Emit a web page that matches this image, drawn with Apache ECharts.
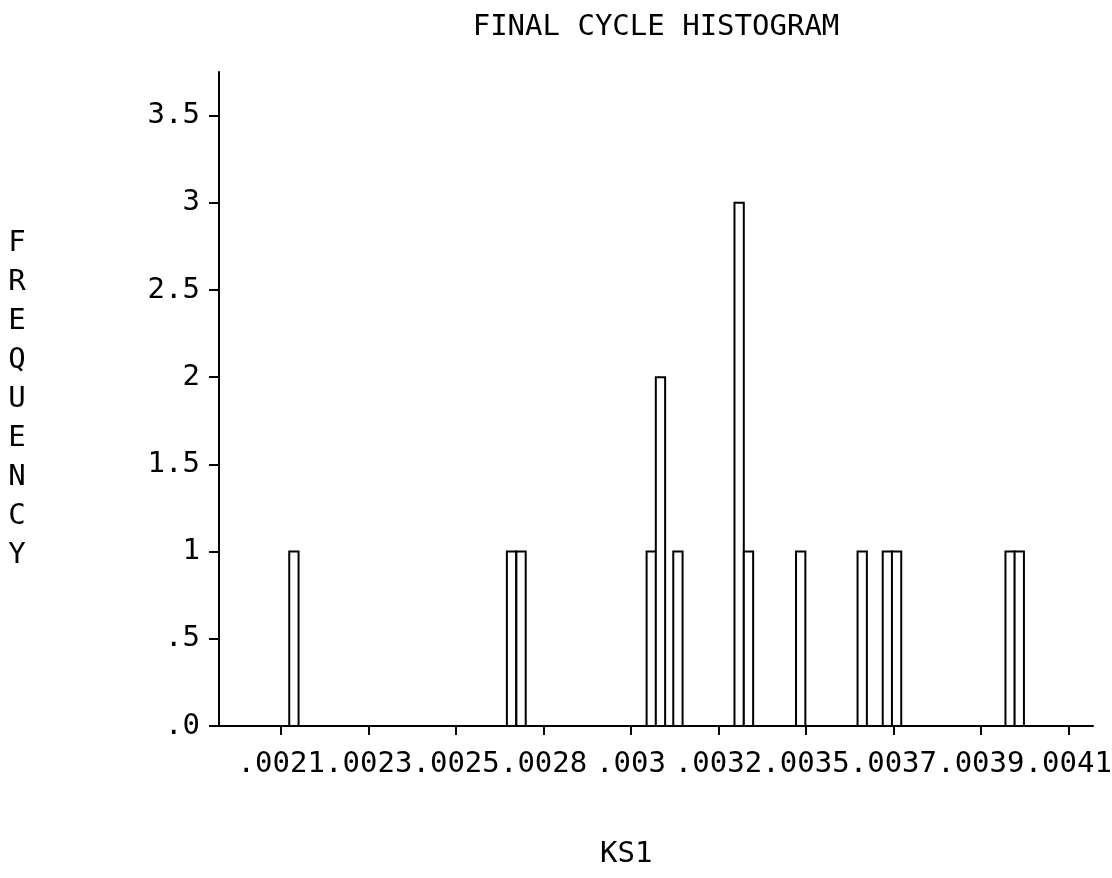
<!DOCTYPE html>
<html>
<head>
<meta charset="utf-8">
<script src="https://cdn.jsdelivr.net/npm/echarts@6/dist/echarts.min.js"></script>
<style>
  html, body { margin: 0; padding: 0; background: #ffffff; }
  #chart { width: 1112px; height: 878px; }
</style>
</head>
<body>
<div id="chart"></div>
<script>
// KS1 bin centres and the count in each bin
const ks1Values = [0.0021083, 0.0026807, 0.0027057, 0.0030482, 0.0030724, 0.0031183, 0.0032793,
                   0.0033039, 0.0034412, 0.0036030, 0.0036692, 0.0036934, 0.0039920, 0.0040161];
const frequency = [1, 1, 1, 1, 2, 1, 3, 1, 1, 1, 1, 1, 1, 1];

// Tick positions on the KS1 axis and the labels printed under them
const xTickValues = [0.002075, 0.002305, 0.002535, 0.002765, 0.002995,
                     0.003225, 0.003455, 0.003685, 0.003915, 0.004145];
const xTickLabels = ['.0021', '.0023', '.0025', '.0028', '.003',
                     '.0032', '.0035', '.0037', '.0039', '.0041'];

// Frequency ticks and their labels
const yTickValues = [0, 0.5, 1, 1.5, 2, 2.5, 3, 3.5];
const yTickLabels = ['.0', '.5', '1', '1.5', '2', '2.5', '3', '3.5'];

const binWidth = 0.0000245;
const FONT = '"DejaVu Sans Mono", "Liberation Mono", monospace';
const FONT_SIZE = 29;

function nearestLabel(values, labels, v) {
  let best = 0;
  for (let i = 1; i < values.length; i++) {
    if (Math.abs(values[i] - v) < Math.abs(values[best] - v)) best = i;
  }
  return labels[best];
}

const chart = echarts.init(document.getElementById('chart'), null, { renderer: 'canvas' });

chart.setOption({
  backgroundColor: '#ffffff',
  animation: false,
  title: {
    text: 'FINAL CYCLE HISTOGRAM',
    left: 656,
    top: 13,
    padding: 0,
    textAlign: 'center',
    textStyle: { fontFamily: FONT, fontSize: FONT_SIZE, fontWeight: 'normal', color: '#000' }
  },
  grid: { left: 219, right: 19, top: 72, bottom: 152, containLabel: false, outerBoundsMode: 'none' },
  xAxis: {
    type: 'value',
    min: 0.0019113,
    max: 0.00421,
    axisLine: { show: true, lineStyle: { color: '#000', width: 2 } },
    axisTick: { show: true, length: 9, lineStyle: { color: '#000', width: 2 }, customValues: xTickValues },
    axisLabel: {
      margin: 24,
      showMinLabel: true,
      showMaxLabel: true,
      customValues: xTickValues,
      formatter: (v) => nearestLabel(xTickValues, xTickLabels, v),
      fontFamily: FONT, fontSize: FONT_SIZE, color: '#000'
    },
    splitLine: { show: false }
  },
  yAxis: {
    type: 'value',
    min: 0,
    max: 3.75,
    name: 'FREQUENCY'.split('').join('\n'),
    nameLocation: 'middle',
    nameRotate: 0,
    nameGap: 202,
    nameTextStyle: { fontFamily: FONT, fontSize: FONT_SIZE, color: '#000', lineHeight: 39, align: 'center', verticalAlign: 'middle', padding: [8, 0, 0, 0] },
    axisLine: { show: true, lineStyle: { color: '#000', width: 2 } },
    axisTick: { show: true, length: 10, lineStyle: { color: '#000', width: 2 }, customValues: yTickValues },
    axisLabel: {
      margin: 19,
      customValues: yTickValues,
      formatter: (v) => nearestLabel(yTickValues, yTickLabels, v),
      fontFamily: FONT, fontSize: FONT_SIZE, color: '#000'
    },
    splitLine: { show: false }
  },
  graphic: [{
    type: 'text',
    left: 600,
    top: 840,
    style: { text: 'KS1', fontFamily: FONT, fontSize: FONT_SIZE, fill: '#000' }
  }],
  series: [{
    type: 'custom',
    data: ks1Values.map((x, i) => [x, frequency[i]]),
    encode: { x: 0, y: 1 },
    renderItem: function (params, api) {
      const x = api.value(0);
      const y = api.value(1);
      const p0 = api.coord([x - binWidth / 2, y]);
      const p1 = api.coord([x + binWidth / 2, 0]);
      return {
        type: 'rect',
        shape: { x: p0[0], y: p0[1], width: p1[0] - p0[0], height: p1[1] - p0[1] },
        style: { fill: '#ffffff', stroke: '#000000', lineWidth: 2 }
      };
    }
  }]
});
</script>
</body>
</html>
